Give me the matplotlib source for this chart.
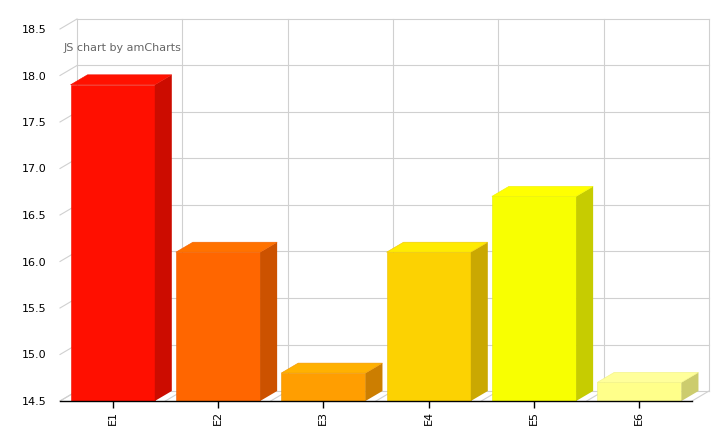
import matplotlib
matplotlib.use('Agg')
import matplotlib.pyplot as plt
from matplotlib.patches import Polygon
from matplotlib.colors import to_rgb

categories = ['E1', 'E2', 'E3', 'E4', 'E5', 'E6']
values = [17.9, 16.1, 14.8, 16.1, 16.7, 14.7]
colors = ['#FF0F00', '#FF6600', '#FF9E01', '#FCD202', '#F8FF01', '#FFFF8A']
y_ticks = [14.5, 15.0, 15.5, 16.0, 16.5, 17.0, 17.5, 18.0, 18.5]

y_min, y_max = 14.5, 18.5
depth_px = (17, 10)   # 3d offset of back plane in pixels
bar_width = 0.8


def shade(color, k):
    return tuple(min(1.0, c * k) for c in to_rgb(color))


fig = plt.figure(figsize=(7.28, 4.37), dpi=100)
W, H = 728, 437
ax = fig.add_axes([60 / W, 36 / H, 632 / W, 372 / H])
n = len(categories)
ax.set_xlim(-0.5, n - 0.5)
ax.set_ylim(y_min, y_max)

# offsets in data units
dx = depth_px[0] / 632 * n
dy = depth_px[1] / 372 * (y_max - y_min)

grid_c = '#d0d0d0'
grid_kw = dict(color=grid_c, lw=0.8, clip_on=False, zorder=1)

# back wall grid + diagonal ticks
for v in y_ticks:
    ax.plot([-0.5 + dx, n - 0.5 + dx], [v + dy, v + dy], **grid_kw)
    ax.plot([-0.5, -0.5 + dx], [v, v + dy], **grid_kw)
for k in range(n + 1):
    xb = -0.5 + k
    ax.plot([xb + dx, xb + dx], [y_min + dy, y_max + dy], **grid_kw)
    ax.plot([xb, xb + dx], [y_min, y_min + dy], **grid_kw)

# 3d columns
hw = bar_width / 2
for i, (v, c) in enumerate(zip(values, colors)):
    ax.bar(i, v - y_min, bottom=y_min, width=bar_width, color=c,
           edgecolor=shade(c, 0.93), lw=0.4, zorder=3)
    side = [(i + hw, y_min), (i + hw + dx, y_min + dy),
            (i + hw + dx, v + dy), (i + hw, v)]
    top = [(i - hw, v), (i - hw + dx, v + dy), (i + hw + dx, v + dy), (i + hw, v)]
    ax.add_patch(Polygon(side, closed=True, facecolor=shade(c, 0.8),
                         edgecolor='none', zorder=3, clip_on=False))
    ax.add_patch(Polygon(top, closed=True, facecolor=shade(c, 1.12),
                         edgecolor=shade(c, 0.95), lw=0.4, zorder=3, clip_on=False))

# axes styling
for s in ['top', 'right', 'left']:
    ax.spines[s].set_visible(False)
ax.spines['bottom'].set_color('black')
ax.spines['bottom'].set_linewidth(1.0)
ax.spines['bottom'].set_zorder(4)

ax.set_yticks(y_ticks)
ax.set_yticklabels([f'{v:.1f}' for v in y_ticks])
ax.tick_params(axis='y', length=0, pad=10, labelsize=8, labelcolor='black')
ax.set_xticks(range(n))
ax.set_xticklabels(categories, rotation=90)
ax.tick_params(axis='x', length=5, width=1, color='black', pad=2,
               labelsize=8, labelcolor='black')

fig.text(64 / W, 1 - 48 / H, 'JS chart by amCharts', fontsize=8,
         color='#666666', va='center', ha='left')

fig.savefig('out.png', dpi=100)
